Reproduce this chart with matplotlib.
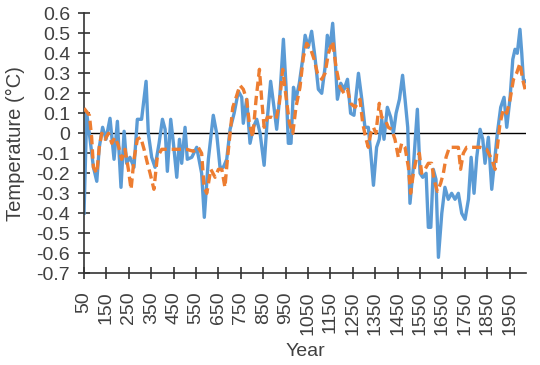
import matplotlib.pyplot as plt
import numpy as np

# Blue series (solid)
blue_year = [50, 62, 77, 92, 107, 118, 133, 148, 166, 184, 199, 215, 229, 240, 255, 273,
             288, 307, 327, 337, 352, 367, 385, 400, 412, 422, 437, 449, 464, 476, 486,
             501, 511, 531, 553, 575, 587, 605, 627, 642, 657, 672, 687, 702, 720, 739,
             754, 761, 776, 791, 806, 821, 836, 854, 868, 883, 898, 910, 925, 940, 952,
             962, 974, 985, 996, 1011, 1026, 1037, 1051, 1066, 1081, 1096, 1111, 1126,
             1136, 1148, 1160, 1171, 1181, 1196, 1211, 1226, 1240, 1255, 1275, 1290,
             1304, 1319, 1330, 1342, 1356, 1368, 1379, 1389, 1404, 1419, 1431, 1443,
             1458, 1472, 1483, 1495, 1505, 1520, 1538, 1550, 1562, 1577, 1587, 1598,
             1609, 1621, 1632, 1647, 1661, 1676, 1691, 1706, 1721, 1736, 1751, 1766,
             1778, 1791, 1803, 1818, 1830, 1840, 1855, 1870, 1880, 1895, 1910, 1925,
             1937, 1952, 1964, 1974, 1984, 1996, 2004, 2011, 2020]
blue_temp = [-0.40, 0.10, -0.03, -0.17, -0.24, -0.07, 0.03, -0.03, 0.075, -0.13, 0.06,
             -0.27, 0.01, -0.15, -0.12, -0.17, 0.07, 0.07, 0.26, 0.00, -0.12, -0.17,
             -0.05, 0.07, 0.02, -0.19, 0.07, -0.05, -0.22, -0.03, -0.15, 0.03, -0.13,
             -0.12, -0.07, -0.20, -0.42, -0.13, 0.09, 0.00, -0.17, -0.17, -0.13, 0.02,
             0.10, 0.21, 0.18, 0.05, 0.17, -0.05, 0.03, 0.07, 0.00, -0.16, 0.07, 0.26,
             0.13, 0.02, 0.20, 0.47, 0.23, -0.05, -0.05, 0.23, 0.17, 0.25, 0.37, 0.49,
             0.43, 0.51, 0.38, 0.22, 0.20, 0.33, 0.49, 0.43, 0.55, 0.37, 0.17, 0.25,
             0.22, 0.27, 0.10, 0.09, 0.30, 0.17, 0.03, 0.03, -0.10, -0.26, -0.07,
             -0.03, 0.07, -0.03, 0.13, 0.08, 0.00, 0.10, 0.17, 0.29, 0.17, 0.03, -0.35,
             -0.17, 0.12, -0.20, -0.22, -0.20, -0.47, -0.47, -0.18, -0.23, -0.62,
             -0.40, -0.27, -0.33, -0.30, -0.33, -0.30, -0.40, -0.43, -0.33, -0.12,
             -0.30, -0.12, 0.02, -0.03, -0.15, -0.02, -0.28, -0.17, 0.00, 0.13, 0.18,
             0.03, 0.18, 0.37, 0.42, 0.40, 0.52, 0.40, 0.27, 0.26]

# Orange series (dashed)
orange_year = [50, 74, 84, 92, 107, 118, 129, 144, 159, 174, 188, 203, 218, 233, 248,
               260, 273, 288, 303, 318, 333, 345, 362, 377, 397, 419, 449, 479, 508,
               538, 560, 575, 586, 598, 616, 635, 650, 665, 679, 690, 702, 714, 729,
               746, 761, 776, 788, 803, 818, 833, 843, 854, 868, 888, 907, 922, 937,
               952, 967, 982, 996, 1014, 1029, 1044, 1062, 1077, 1092, 1111, 1126,
               1141, 1160, 1175, 1193, 1211, 1226, 1240, 1260, 1282, 1294, 1309, 1319,
               1330, 1342, 1353, 1368, 1379, 1394, 1408, 1423, 1438, 1453, 1468, 1483,
               1498, 1508, 1520, 1535, 1547, 1557, 1572, 1587, 1602, 1612, 1627, 1642,
               1654, 1666, 1681, 1699, 1721, 1731, 1743, 1758, 1788, 1818, 1847, 1870,
               1885, 1895, 1907, 1922, 1937, 1952, 1967, 1981, 1996, 2008, 2019]
orange_temp = [0.125, 0.09, -0.02, -0.17, -0.20, -0.07, 0.00, -0.03, 0.00, -0.05, -0.02,
               -0.06, -0.13, -0.08, -0.18, -0.28, -0.13, -0.03, -0.02, -0.08, -0.15,
               -0.20, -0.28, -0.12, -0.08, -0.08, -0.08, -0.08, -0.08, -0.09, -0.07,
               -0.10, -0.27, -0.30, -0.18, -0.22, -0.18, -0.18, -0.27, -0.13, 0.00,
               0.13, 0.18, 0.24, 0.22, 0.17, 0.05, -0.02, 0.17, 0.32, 0.17, 0.03, 0.08,
               0.08, 0.07, 0.15, 0.32, 0.18, 0.05, 0.00, 0.13, 0.23, 0.38, 0.45, 0.42,
               0.37, 0.30, 0.27, 0.30, 0.40, 0.46, 0.33, 0.23, 0.20, 0.22, 0.15, 0.13,
               0.17, 0.05, -0.03, -0.07, 0.00, 0.03, 0.00, 0.15, 0.08, 0.07, 0.03, 0.02,
               -0.03, -0.12, -0.05, -0.07, -0.17, -0.30, -0.20, -0.12, -0.10, -0.20,
               -0.18, -0.15, -0.15, -0.23, -0.29, -0.25, -0.20, -0.12, -0.07, -0.07,
               -0.07, -0.18, -0.10, -0.07, -0.07, -0.07, -0.08, -0.13, -0.18, -0.07,
               0.05, 0.12, 0.10, 0.17, 0.27, 0.30, 0.35, 0.27, 0.22]

year_ticks = list(range(50, 2000, 100))
temp_ticks = np.round(np.arange(-0.7, 0.61, 0.1), 1)

plt.rcParams["font.family"] = ["Liberation Sans", "DejaVu Sans"]
text_col = "#404040"

fig = plt.figure(figsize=(5.4, 3.65), dpi=100)
ax = fig.add_axes([0.1556, 0.2512, 0.8185, 0.7124])

ax.axhline(0, color="black", lw=1.0, zorder=1)
ax.plot(blue_year, blue_temp, color="#5B9BD5", lw=2.4, solid_joinstyle="round", zorder=2)
ax.plot(orange_year, orange_temp, color="#ED7D31", lw=2.4, linestyle=(0, (2.8, 1.5)),
        zorder=3)

ax.set_xlim(50, 2023)
ax.set_ylim(-0.7, 0.6)
ax.set_xticks(year_ticks)
ax.set_xticklabels([str(y) for y in year_ticks], rotation=90)
ax.set_yticks(temp_ticks)
ax.set_yticklabels([f"{t:.1f}" if t != 0 else "0" for t in temp_ticks])

for side in ["top", "right"]:
    ax.spines[side].set_visible(False)
for side in ["left", "bottom"]:
    ax.spines[side].set_color("#333333")
    ax.spines[side].set_linewidth(1.2)

ax.tick_params(axis="both", direction="inout", length=8, width=1.2, color="#333333",
               labelsize=14, labelcolor=text_col)
ax.tick_params(axis="x", pad=9)
ax.tick_params(axis="y", pad=6)

ax.set_xlabel("Year", fontsize=14, color=text_col, labelpad=6)
ax.set_ylabel("Temperature (°C)", fontsize=14.5, color=text_col, labelpad=8)

fig.savefig("out.png", dpi=100)
